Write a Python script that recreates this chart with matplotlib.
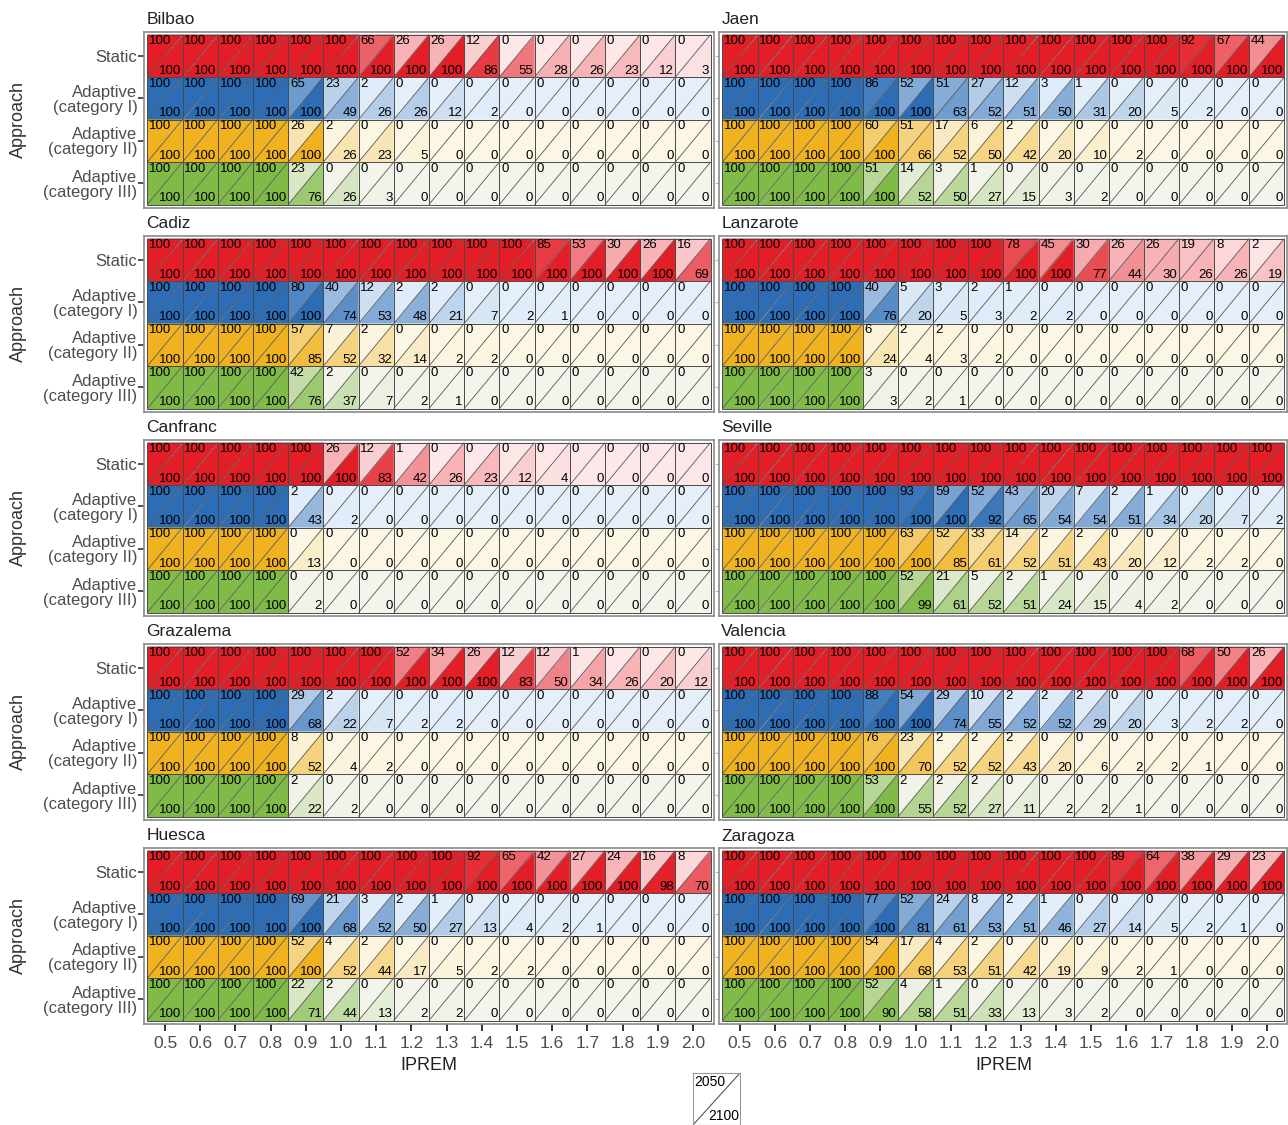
import matplotlib
matplotlib.use("Agg")
import matplotlib.pyplot as plt
from matplotlib.patches import Polygon, Rectangle
import numpy as np

plt.rcParams['font.family'] = ['Liberation Sans', 'DejaVu Sans']

# ---------------- data ----------------
iprem_labels = ["0.5", "0.6", "0.7", "0.8", "0.9", "1.0", "1.1", "1.2",
                "1.3", "1.4", "1.5", "1.6", "1.7", "1.8", "1.9", "2.0"]
approaches = ["Static", "Adaptive\n(category I)", "Adaptive\n(category II)",
              "Adaptive\n(category III)"]
sites = ["Bilbao", "Jaen", "Cadiz", "Lanzarote", "Canfranc", "Seville",
         "Grazalema", "Valencia", "Huesca", "Zaragoza"]

# rows: Static, Cat I, Cat II, Cat III ; columns: IPREM 0.5 .. 2.0
bilbao_2050 = [
    [100, 100, 100, 100, 100, 100, 66, 26, 26, 12, 0, 0, 0, 0, 0, 0],
    [100, 100, 100, 100, 65, 23, 2, 0, 0, 0, 0, 0, 0, 0, 0, 0],
    [100, 100, 100, 100, 26, 2, 0, 0, 0, 0, 0, 0, 0, 0, 0, 0],
    [100, 100, 100, 100, 23, 0, 0, 0, 0, 0, 0, 0, 0, 0, 0, 0]]
bilbao_2100 = [
    [100, 100, 100, 100, 100, 100, 100, 100, 100, 86, 55, 28, 26, 23, 12, 3],
    [100, 100, 100, 100, 100, 49, 26, 26, 12, 2, 0, 0, 0, 0, 0, 0],
    [100, 100, 100, 100, 100, 26, 23, 5, 0, 0, 0, 0, 0, 0, 0, 0],
    [100, 100, 100, 100, 76, 26, 3, 0, 0, 0, 0, 0, 0, 0, 0, 0]]

jaen_2050 = [
    [100, 100, 100, 100, 100, 100, 100, 100, 100, 100, 100, 100, 100, 92, 67, 44],
    [100, 100, 100, 100, 86, 52, 51, 27, 12, 3, 1, 0, 0, 0, 0, 0],
    [100, 100, 100, 100, 60, 51, 17, 6, 2, 0, 0, 0, 0, 0, 0, 0],
    [100, 100, 100, 100, 51, 14, 3, 1, 0, 0, 0, 0, 0, 0, 0, 0]]
jaen_2100 = [
    [100, 100, 100, 100, 100, 100, 100, 100, 100, 100, 100, 100, 100, 100, 100, 100],
    [100, 100, 100, 100, 100, 100, 63, 52, 51, 50, 31, 20, 5, 2, 0, 0],
    [100, 100, 100, 100, 100, 66, 52, 50, 42, 20, 10, 2, 0, 0, 0, 0],
    [100, 100, 100, 100, 100, 52, 50, 27, 15, 3, 2, 0, 0, 0, 0, 0]]

cadiz_2050 = [
    [100, 100, 100, 100, 100, 100, 100, 100, 100, 100, 100, 85, 53, 30, 26, 16],
    [100, 100, 100, 100, 80, 40, 12, 2, 2, 0, 0, 0, 0, 0, 0, 0],
    [100, 100, 100, 100, 57, 7, 2, 0, 0, 0, 0, 0, 0, 0, 0, 0],
    [100, 100, 100, 100, 42, 2, 0, 0, 0, 0, 0, 0, 0, 0, 0, 0]]
cadiz_2100 = [
    [100, 100, 100, 100, 100, 100, 100, 100, 100, 100, 100, 100, 100, 100, 100, 69],
    [100, 100, 100, 100, 100, 74, 53, 48, 21, 7, 2, 1, 0, 0, 0, 0],
    [100, 100, 100, 100, 85, 52, 32, 14, 2, 2, 0, 0, 0, 0, 0, 0],
    [100, 100, 100, 100, 76, 37, 7, 2, 1, 0, 0, 0, 0, 0, 0, 0]]

lanzarote_2050 = [
    [100, 100, 100, 100, 100, 100, 100, 100, 78, 45, 30, 26, 26, 19, 8, 2],
    [100, 100, 100, 100, 40, 5, 3, 2, 1, 0, 0, 0, 0, 0, 0, 0],
    [100, 100, 100, 100, 6, 2, 2, 0, 0, 0, 0, 0, 0, 0, 0, 0],
    [100, 100, 100, 100, 3, 0, 0, 0, 0, 0, 0, 0, 0, 0, 0, 0]]
lanzarote_2100 = [
    [100, 100, 100, 100, 100, 100, 100, 100, 100, 100, 77, 44, 30, 26, 26, 19],
    [100, 100, 100, 100, 76, 20, 5, 3, 2, 2, 0, 0, 0, 0, 0, 0],
    [100, 100, 100, 100, 24, 4, 3, 2, 0, 0, 0, 0, 0, 0, 0, 0],
    [100, 100, 100, 100, 3, 2, 1, 0, 0, 0, 0, 0, 0, 0, 0, 0]]

canfranc_2050 = [
    [100, 100, 100, 100, 100, 26, 12, 1, 0, 0, 0, 0, 0, 0, 0, 0],
    [100, 100, 100, 100, 2, 0, 0, 0, 0, 0, 0, 0, 0, 0, 0, 0],
    [100, 100, 100, 100, 0, 0, 0, 0, 0, 0, 0, 0, 0, 0, 0, 0],
    [100, 100, 100, 100, 0, 0, 0, 0, 0, 0, 0, 0, 0, 0, 0, 0]]
canfranc_2100 = [
    [100, 100, 100, 100, 100, 100, 83, 42, 26, 23, 12, 4, 0, 0, 0, 0],
    [100, 100, 100, 100, 43, 2, 0, 0, 0, 0, 0, 0, 0, 0, 0, 0],
    [100, 100, 100, 100, 13, 0, 0, 0, 0, 0, 0, 0, 0, 0, 0, 0],
    [100, 100, 100, 100, 2, 0, 0, 0, 0, 0, 0, 0, 0, 0, 0, 0]]

seville_2050 = [
    [100, 100, 100, 100, 100, 100, 100, 100, 100, 100, 100, 100, 100, 100, 100, 100],
    [100, 100, 100, 100, 100, 93, 59, 52, 43, 20, 7, 2, 1, 0, 0, 0],
    [100, 100, 100, 100, 100, 63, 52, 33, 14, 2, 2, 0, 0, 0, 0, 0],
    [100, 100, 100, 100, 100, 52, 21, 5, 2, 1, 0, 0, 0, 0, 0, 0]]
seville_2100 = [
    [100, 100, 100, 100, 100, 100, 100, 100, 100, 100, 100, 100, 100, 100, 100, 100],
    [100, 100, 100, 100, 100, 100, 100, 92, 65, 54, 54, 51, 34, 20, 7, 2],
    [100, 100, 100, 100, 100, 100, 85, 61, 52, 51, 43, 20, 12, 2, 2, 0],
    [100, 100, 100, 100, 100, 99, 61, 52, 51, 24, 15, 4, 2, 0, 0, 0]]

grazalema_2050 = [
    [100, 100, 100, 100, 100, 100, 100, 52, 34, 26, 12, 12, 1, 0, 0, 0],
    [100, 100, 100, 100, 29, 2, 0, 0, 0, 0, 0, 0, 0, 0, 0, 0],
    [100, 100, 100, 100, 8, 0, 0, 0, 0, 0, 0, 0, 0, 0, 0, 0],
    [100, 100, 100, 100, 2, 0, 0, 0, 0, 0, 0, 0, 0, 0, 0, 0]]
grazalema_2100 = [
    [100, 100, 100, 100, 100, 100, 100, 100, 100, 100, 83, 50, 34, 26, 20, 12],
    [100, 100, 100, 100, 68, 22, 7, 2, 2, 0, 0, 0, 0, 0, 0, 0],
    [100, 100, 100, 100, 52, 4, 2, 0, 0, 0, 0, 0, 0, 0, 0, 0],
    [100, 100, 100, 100, 22, 2, 0, 0, 0, 0, 0, 0, 0, 0, 0, 0]]

valencia_2050 = [
    [100, 100, 100, 100, 100, 100, 100, 100, 100, 100, 100, 100, 100, 68, 50, 26],
    [100, 100, 100, 100, 88, 54, 29, 10, 2, 2, 2, 0, 0, 0, 0, 0],
    [100, 100, 100, 100, 76, 23, 2, 2, 2, 0, 0, 0, 0, 0, 0, 0],
    [100, 100, 100, 100, 53, 2, 2, 2, 0, 0, 0, 0, 0, 0, 0, 0]]
valencia_2100 = [
    [100, 100, 100, 100, 100, 100, 100, 100, 100, 100, 100, 100, 100, 100, 100, 100],
    [100, 100, 100, 100, 100, 100, 74, 55, 52, 52, 29, 20, 3, 2, 2, 0],
    [100, 100, 100, 100, 100, 70, 52, 52, 43, 20, 6, 2, 2, 1, 0, 0],
    [100, 100, 100, 100, 100, 55, 52, 27, 11, 2, 2, 1, 0, 0, 0, 0]]

huesca_2050 = [
    [100, 100, 100, 100, 100, 100, 100, 100, 100, 92, 65, 42, 27, 24, 16, 8],
    [100, 100, 100, 100, 69, 21, 3, 2, 1, 0, 0, 0, 0, 0, 0, 0],
    [100, 100, 100, 100, 52, 4, 2, 0, 0, 0, 0, 0, 0, 0, 0, 0],
    [100, 100, 100, 100, 22, 2, 0, 0, 0, 0, 0, 0, 0, 0, 0, 0]]
huesca_2100 = [
    [100, 100, 100, 100, 100, 100, 100, 100, 100, 100, 100, 100, 100, 100, 98, 70],
    [100, 100, 100, 100, 100, 68, 52, 50, 27, 13, 4, 2, 1, 0, 0, 0],
    [100, 100, 100, 100, 100, 52, 44, 17, 5, 2, 2, 0, 0, 0, 0, 0],
    [100, 100, 100, 100, 71, 44, 13, 2, 2, 0, 0, 0, 0, 0, 0, 0]]

zaragoza_2050 = [
    [100, 100, 100, 100, 100, 100, 100, 100, 100, 100, 100, 89, 64, 38, 29, 23],
    [100, 100, 100, 100, 77, 52, 24, 8, 2, 1, 0, 0, 0, 0, 0, 0],
    [100, 100, 100, 100, 54, 17, 4, 2, 0, 0, 0, 0, 0, 0, 0, 0],
    [100, 100, 100, 100, 52, 4, 1, 0, 0, 0, 0, 0, 0, 0, 0, 0]]
zaragoza_2100 = [
    [100, 100, 100, 100, 100, 100, 100, 100, 100, 100, 100, 100, 100, 100, 100, 100],
    [100, 100, 100, 100, 100, 81, 61, 53, 51, 46, 27, 14, 5, 2, 1, 0],
    [100, 100, 100, 100, 100, 68, 53, 51, 42, 19, 9, 2, 1, 0, 0, 0],
    [100, 100, 100, 100, 90, 58, 51, 33, 13, 3, 2, 0, 0, 0, 0, 0]]

values_2050 = [bilbao_2050, jaen_2050, cadiz_2050, lanzarote_2050, canfranc_2050,
               seville_2050, grazalema_2050, valencia_2050, huesca_2050, zaragoza_2050]
values_2100 = [bilbao_2100, jaen_2100, cadiz_2100, lanzarote_2100, canfranc_2100,
               seville_2100, grazalema_2100, valencia_2100, huesca_2100, zaragoza_2100]

# ---------------- style ----------------
full_cols = ['#E41E26', '#2C6DB6', '#F0B21F', '#80BB48']
low_cols = ['#FDE7E9', '#E4EFFA', '#FCF6E4', '#F3F4EB']


def hex2rgb(h):
    h = h.lstrip('#')
    return np.array([int(h[i:i + 2], 16) / 255 for i in (0, 2, 4)])


def cell_color(row, v):
    lo = hex2rgb(low_cols[row])
    hi = hex2rgb(full_cols[row])
    t = v / 100.0
    return tuple(lo + (hi - lo) * t)


W, H = 1288, 1125
fig = plt.figure(figsize=(W / 100, H / 100), dpi=100)
fig.patch.set_facecolor('white')

col_cells = [(147.4, 710.6), (722.4, 1284.4)]
row_top0 = 34.5
row_step = 204.0
cell_h_total = 170.0
pad_px = 3.0

ncol = len(iprem_labels)
nrow = len(approaches)
edge = '#4a4a4a'
txt_grey = '#4d4d4d'

for k, site in enumerate(sites):
    r, c = divmod(k, 2)
    cx0, cx1 = col_cells[c]
    cy0 = row_top0 + r * row_step
    cy1 = cy0 + cell_h_total
    ax = fig.add_axes([(cx0 - pad_px) / W, 1 - (cy1 + pad_px) / H,
                       (cx1 - cx0 + 2 * pad_px) / W, (cy1 - cy0 + 2 * pad_px) / H])
    px_per_x = (cx1 - cx0) / ncol
    px_per_y = (cy1 - cy0) / nrow
    padx = pad_px / px_per_x
    pady = pad_px / px_per_y
    ax.set_xlim(-0.5 - padx, ncol - 0.5 + padx)
    ax.set_ylim(nrow - 0.5 + pady, -0.5 - pady)
    v50 = values_2050[k]
    v00 = values_2100[k]
    for j in range(nrow):
        for i in range(ncol):
            x0, x1 = i - 0.5, i + 0.5
            yt, yb = j - 0.5, j + 0.5
            a = v50[j][i]
            b = v00[j][i]
            ax.add_patch(Polygon([(x0, yt), (x0, yb), (x1, yt)], closed=True,
                                 facecolor=cell_color(j, a), edgecolor='none'))
            ax.add_patch(Polygon([(x1, yt), (x1, yb), (x0, yb)], closed=True,
                                 facecolor=cell_color(j, b), edgecolor='none'))
            ax.plot([x0, x1], [yb, yt], color='#555555', lw=0.6,
                    solid_capstyle='butt')
            ax.add_patch(Rectangle((x0, yt), 1, 1, facecolor='none',
                                   edgecolor=edge, lw=0.7))
            ax.text(x0 + 0.05, yt + 0.02, str(a), ha='left', va='top',
                    fontsize=9.5, color='black')
            ax.text(x1 - 0.04, yb - 0.01, str(b), ha='right', va='bottom',
                    fontsize=9.5, color='black')
    for sp in ax.spines.values():
        sp.set_color('#8a8a8a')
        sp.set_linewidth(1.2)
    ax.set_yticks(range(nrow))
    if c == 0:
        ax.set_yticklabels(approaches, fontsize=12, color=txt_grey,
                           linespacing=1.0)
        ax.tick_params(axis='y', length=4, width=1.1, color='#222222', pad=1)
        fig.text(18 / W, 1 - (cy0 + cell_h_total / 2) / H, 'Approach',
                 rotation=90, ha='center', va='center', fontsize=13,
                 color='#333333')
    else:
        ax.set_yticklabels([])
        ax.tick_params(axis='y', length=3, width=0.8, color='#bbbbbb')
    ax.set_xticks(range(ncol))
    if r == 4:
        ax.set_xticklabels(iprem_labels, fontsize=12.5, color=txt_grey)
        ax.tick_params(axis='x', length=5, width=1.3, color='#222222', pad=4)
        fig.text(((cx0 + cx1) / 2) / W, 1 - 1065 / H, 'IPREM', ha='center',
                 va='center', fontsize=13, color='#222222')
    else:
        ax.set_xticklabels([])
        ax.tick_params(axis='x', length=0)
    fig.text((cx0 - 1) / W, 1 - (cy0 - 10) / H, site, ha='left',
             va='baseline', fontsize=12.5, color='#222222')

# legend key (2050 / 2100 triangle)
lax = fig.add_axes([693 / W, 1 - 1125 / H, 47 / W, 52 / H])
lax.set_xlim(0, 1)
lax.set_ylim(0, 1)
lax.plot([0, 1], [0, 1], color='#555555', lw=0.8)
lax.text(0.02, 0.97, '2050', ha='left', va='top', fontsize=10)
lax.text(0.98, 0.03, '2100', ha='right', va='bottom', fontsize=10)
lax.set_xticks([])
lax.set_yticks([])
for sp in lax.spines.values():
    sp.set_color('#999999')
    sp.set_linewidth(0.8)

fig.savefig('out.png', dpi=100, facecolor='white')
